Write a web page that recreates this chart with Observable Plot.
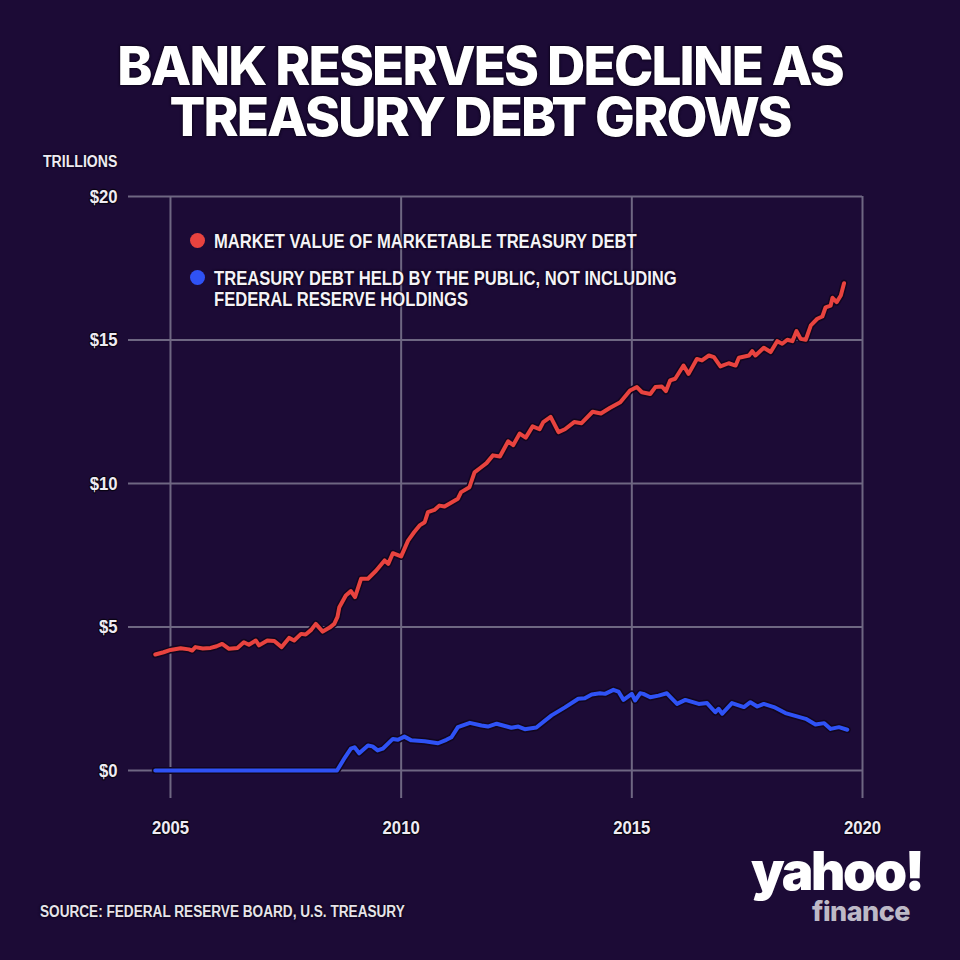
<!DOCTYPE html>
<html>
<head>
<meta charset="utf-8">
<script src="https://cdn.jsdelivr.net/npm/d3@7"></script>
<script src="https://cdn.jsdelivr.net/npm/@observablehq/plot@0.6"></script>
<style>
  html, body { margin: 0; padding: 0; background: #1c0b36; }
  #page { position: relative; width: 960px; height: 960px; background: #1c0b36; overflow: hidden; color: #fff; }
  .narrow { font-family: "Liberation Sans", Arial, sans-serif; font-weight: 700; white-space: nowrap; }
  .sq { display: inline-block; transform-origin: 0 50%; }
  .shadow { text-shadow: 0 0 2px #0a0314, 0 0 3px #0a0314; }
  .title { position: absolute; left: 0; width: 960px; text-align: center;
    font-family: "Inter", "Lato", sans-serif; font-weight: 800; font-size: 53px; line-height: 47px; letter-spacing: -1.85px; }
  #unit { position: absolute; left: 43px; top: 154px; font-size: 16px; line-height: 16px; color: #eeebf3; }
  #chart { position: absolute; left: 0; top: 140px; }
  #chart svg text { paint-order: stroke; stroke: #0a0314; stroke-width: 2.5px; stroke-linejoin: round; }
  .leg { position: absolute; font-size: 20px; line-height: 20px; color: #f4f2f7; }
  .dot { position: absolute; width: 15px; height: 15px; border-radius: 50%; }
  #source { position: absolute; left: 40px; top: 904px; font-size: 16px; line-height: 16px; color: #e6e3ea; }
  #logo1 { position: absolute; left: 751px; top: 846px; font-family: "Inter", sans-serif; font-weight: 900; font-size: 53px; letter-spacing: -2.3px; color: #fff; line-height: 50px; }
  #logo2 { position: absolute; left: 812px; top: 900px; font-family: "Inter", sans-serif; font-weight: 800; font-size: 27px; letter-spacing: -0.5px; color: #bdb9c6; line-height: 24px; }
</style>
</head>
<body>
<div id="page">
  <div class="title shadow" style="top:43px">BANK RESERVES DECLINE AS</div>
  <div class="title shadow" style="top:94px">TREASURY DEBT GROWS</div>
  <div id="unit" class="narrow shadow"><span class="sq" style="transform:scaleX(0.88)">TRILLIONS</span></div>
  <div id="chart"></div>
  <div id="legend"></div>
  <div id="source" class="narrow shadow"><span class="sq" style="transform:scaleX(0.85)">SOURCE: FEDERAL RESERVE BOARD, U.S. TREASURY</span></div>
  <div id="logo1">yahoo!</div>
  <div id="logo2">finance</div>
</div>
<script>
// ---- Data (trillions of dollars) ----
const marketYears = [2004.67,2004.85,2005.00,2005.22,2005.40,2005.47,2005.54,2005.70,2005.87,2006.00,2006.12,2006.27,2006.45,2006.59,2006.70,2006.85,2006.92,2007.10,2007.25,2007.41,2007.57,2007.68,2007.83,2007.93,2008.05,2008.15,2008.30,2008.45,2008.55,2008.62,2008.66,2008.80,2008.91,2009.00,2009.13,2009.28,2009.45,2009.64,2009.72,2009.82,2010.00,2010.15,2010.28,2010.40,2010.51,2010.58,2010.72,2010.83,2010.94,2011.10,2011.23,2011.30,2011.48,2011.59,2011.72,2011.85,2011.99,2012.14,2012.32,2012.43,2012.57,2012.70,2012.85,2013.00,2013.08,2013.24,2013.41,2013.55,2013.75,2013.91,2014.15,2014.33,2014.53,2014.75,2014.96,2015.11,2015.22,2015.40,2015.51,2015.65,2015.74,2015.83,2015.94,2016.12,2016.23,2016.41,2016.52,2016.67,2016.78,2016.92,2017.10,2017.25,2017.32,2017.54,2017.61,2017.68,2017.86,2018.01,2018.15,2018.26,2018.37,2018.48,2018.57,2018.66,2018.77,2018.88,2019.02,2019.13,2019.20,2019.31,2019.35,2019.44,2019.53,2019.60];
const marketValues = [4.04,4.12,4.20,4.26,4.22,4.18,4.30,4.25,4.27,4.33,4.41,4.24,4.27,4.47,4.38,4.53,4.36,4.53,4.51,4.30,4.62,4.53,4.76,4.74,4.90,5.11,4.84,4.98,5.11,5.35,5.69,6.10,6.25,6.04,6.68,6.68,6.95,7.32,7.20,7.57,7.46,8.01,8.30,8.54,8.65,9.00,9.08,9.23,9.20,9.35,9.47,9.70,9.87,10.39,10.55,10.71,10.98,10.94,11.47,11.34,11.74,11.60,11.99,11.89,12.14,12.32,11.79,11.89,12.14,12.10,12.50,12.44,12.64,12.83,13.24,13.36,13.18,13.12,13.36,13.38,13.22,13.59,13.65,14.11,13.82,14.34,14.29,14.46,14.40,14.08,14.19,14.11,14.38,14.46,14.61,14.46,14.73,14.58,14.96,14.87,15.01,14.96,15.31,15.04,15.01,15.51,15.74,15.82,16.14,16.20,16.47,16.32,16.55,16.98];

const publicYears = [2004.67,2008.61,2008.78,2008.91,2008.99,2009.09,2009.28,2009.38,2009.49,2009.60,2009.82,2009.93,2010.07,2010.22,2010.51,2010.80,2010.98,2011.09,2011.23,2011.49,2011.74,2011.88,2012.07,2012.39,2012.54,2012.68,2012.93,2013.26,2013.55,2013.84,2013.98,2014.13,2014.31,2014.42,2014.60,2014.71,2014.82,2015.00,2015.07,2015.18,2015.25,2015.40,2015.58,2015.76,2015.98,2016.16,2016.45,2016.63,2016.81,2016.88,2016.96,2017.17,2017.43,2017.57,2017.72,2017.86,2018.08,2018.33,2018.77,2018.98,2019.17,2019.31,2019.49,2019.67];
const publicValues = [0,0,0.45,0.76,0.81,0.60,0.87,0.84,0.70,0.76,1.10,1.07,1.18,1.05,1.02,0.95,1.07,1.16,1.51,1.66,1.57,1.53,1.63,1.49,1.53,1.44,1.50,1.92,2.20,2.50,2.52,2.65,2.69,2.67,2.81,2.75,2.46,2.67,2.44,2.69,2.67,2.55,2.61,2.69,2.32,2.46,2.32,2.35,2.03,2.15,1.98,2.35,2.21,2.38,2.23,2.32,2.21,2.00,1.80,1.60,1.65,1.45,1.51,1.42];

const yTicks = [0, 5, 10, 15, 20];
const xTicks = [2005, 2010, 2015, 2020];
const seriesNames = [["MARKET VALUE OF MARKETABLE TREASURY DEBT"], ["TREASURY DEBT HELD BY THE PUBLIC, NOT INCLUDING", "FEDERAL RESERVE HOLDINGS"]];
const seriesColors = ["#e8433f", "#2f52f5"];

const market = marketYears.map((x, i) => ({x, y: marketValues[i]}));
const pub = publicYears.map((x, i) => ({x, y: publicValues[i]}));

const gridColor = "#6e6782";
const fontStack = '"Liberation Sans", Arial, sans-serif';

const chart = Plot.plot({
  width: 960,
  height: 720,
  marginTop: 56,
  marginBottom: 90,
  marginLeft: 128,
  marginRight: 98,
  x: {domain: [2004.09, 2020]},
  y: {domain: [0, 20]},
  style: {background: "transparent", color: "#eeebf3", fontFamily: fontStack, fontWeight: 700, fontSize: "19px"},
  marks: [
    Plot.ruleY(yTicks, {stroke: gridColor, strokeWidth: 2}),
    Plot.ruleX(xTicks, {stroke: gridColor, strokeWidth: 2, insetBottom: -28}),
    Plot.axisY({ticks: yTicks, tickSize: 0, tickPadding: 11, tickFormat: d => "$" + d, label: null, fontSize: 19}),
    Plot.axisX({ticks: xTicks, tickSize: 0, tickPadding: 50, tickFormat: d => String(d), label: null, fontSize: 19}),
    Plot.line(pub, {x: "x", y: "y", stroke: "#12061f", strokeWidth: 7, strokeLinejoin: "round"}),
    Plot.line(pub, {x: "x", y: "y", stroke: seriesColors[1], strokeWidth: 4, strokeLinejoin: "round"}),
    Plot.line(market, {x: "x", y: "y", stroke: "#12061f", strokeWidth: 7, strokeLinejoin: "round"}),
    Plot.line(market, {x: "x", y: "y", stroke: seriesColors[0], strokeWidth: 4, strokeLinejoin: "round"})
  ]
});
document.getElementById("chart").appendChild(chart);

// Condense the axis tick labels horizontally (no condensed face installed)
const squeeze = 0.88;
chart.querySelectorAll('g[aria-label$="tick label"] text').forEach(el => {
  if (el.hasAttribute("x")) el.setAttribute("x", (+el.getAttribute("x")) / squeeze);
  const t = el.getAttribute("transform") || "";
  el.setAttribute("transform", (t + ` scale(${squeeze},1)`).trim());
});

// Legend
const legend = document.getElementById("legend");
const legendTops = [233, 270];
seriesNames.forEach((lines, i) => {
  const dot = document.createElement("div");
  dot.className = "dot";
  dot.style.background = seriesColors[i];
  dot.style.left = "190px";
  dot.style.top = legendTops[i] + "px";
  legend.appendChild(dot);
  lines.forEach((line, j) => {
    const t = document.createElement("div");
    t.className = "leg narrow shadow";
    t.style.left = "214px";
    t.style.top = (legendTops[i] - 2 + j * 21) + "px";
    const s = document.createElement("span");
    s.className = "sq";
    s.style.transform = "scaleX(0.83)";
    s.textContent = line;
    t.appendChild(s);
    legend.appendChild(t);
  });
});
</script>
</body>
</html>
